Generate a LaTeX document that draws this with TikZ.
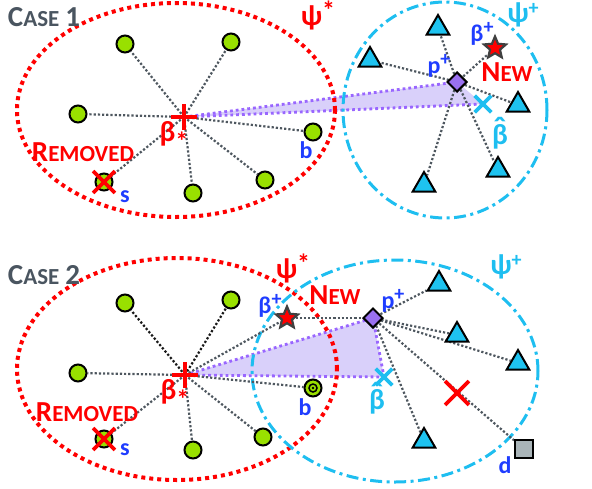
\documentclass[tikz,border=0pt]{standalone}
\usepackage{fontspec}
\setmainfont{Carlito}
\usetikzlibrary{shapes.geometric,shapes.misc,backgrounds}
\definecolor{redc}{HTML}{FF0000}
\definecolor{bluec}{HTML}{1F3DFF}
\definecolor{cyanc}{HTML}{1EBEF0}
\definecolor{trifill}{HTML}{1EC3F0}
\definecolor{limec}{HTML}{99E000}
\definecolor{purpc}{HTML}{9A70F0}
\definecolor{purpline}{HTML}{9966FF}
\definecolor{purpfill}{HTML}{D9D0FA}
\definecolor{glinec}{HTML}{4E575F}
\definecolor{casec}{HTML}{4A5560}
\definecolor{sqfill}{HTML}{A9B4B8}
\newcommand\bigsz{\fontsize{29}{29}\selectfont}
\newcommand\smsz{\fontsize{23}{23}\selectfont}
\newcommand\SCap[2]{{\bigsz #1}{\smsz #2}}
\newcommand\sps[1]{\raisebox{8pt}{\fontsize{20}{20}\selectfont #1}}
\newcommand\spast{\raisebox{6pt}{\fontsize{26}{26}\selectfont *}}
\newcommand\sbast{\raisebox{-9pt}{\fontsize{26}{26}\selectfont *}}
\newcommand\bhat{\ooalign{β\cr\hidewidth\raisebox{4pt}{\fontsize{34}{34}\selectfont ˆ}\hidewidth\cr}}
\begin{document}
\begin{tikzpicture}[x=1pt,y=-1pt,
  gdot/.style={circle, draw=black, line width=2pt, fill=limec, minimum size=17pt, inner sep=0pt},
  tri/.style={regular polygon, regular polygon sides=3, draw=black, line width=2pt, fill=trifill, minimum size=26pt, inner sep=0pt, yshift=-3pt},
  starn/.style={star, star points=5, star point ratio=2.2, draw=black!75, fill=redc, line width=2.2pt, minimum size=23pt, inner sep=0pt},
  pdiam/.style={diamond, draw=black, line width=2pt, fill=purpc, minimum size=20pt, inner sep=0pt},
  sqn/.style={rectangle, draw=black, line width=2pt, fill=sqfill, minimum size=18pt, inner sep=0pt},
  plusmark/.style={cross out, draw=redc, line width=3.8pt, minimum size=14pt, inner sep=0pt, rotate=45},
  cyx/.style={cross out, draw=cyanc, line width=3.6pt, minimum size=13pt, inner sep=0pt},
  redx/.style={cross out, draw=redc, line width=3.8pt, minimum size=#1, inner sep=0pt},
  gline/.style={draw=glinec, line width=2.2pt, dash pattern=on 2.2pt off 2pt},
  bline/.style={draw=black!90, line width=2.2pt, dash pattern=on 2.2pt off 2pt},
  pline/.style={draw=purpline, line width=2.8pt, dash pattern=on 2.8pt off 3pt},
  redell/.style={draw=redc, line width=4pt, dash pattern=on 4pt off 4pt},
  blueell/.style={draw=cyanc, line width=3pt, dash pattern=on 12pt off 4.5pt on 3pt off 4.5pt},
  lab/.style={font=\bfseries\fontsize{24}{24}\selectfont, inner sep=0pt},
  glab/.style={font=\bfseries\fontsize{29}{29}\selectfont, inner sep=0pt},
  sclab/.style={font=\bfseries, inner sep=0pt},
]
\useasboundingbox (0,0) rectangle (592,488);

%% ================= CASE 1 =================
\node[sclab, text=casec] (case1) at (44,17) {\SCap{C}{ASE}\hspace{6pt}{\bigsz 1}};
\node[gdot] (g11) at (125,44) {};
\node[gdot] (g12) at (231,42) {};
\node[gdot] (g13) at (78,114) {};
\node[gdot] (g14) at (193,193) {};
\node[gdot] (g15) at (265,180) {};
\node[gdot] (s1) at (104,182) {};
\node[gdot] (b1) at (313,132) {};
\node[tri] (t11) at (438,25) {};
\node[tri] (t12) at (370,57) {};
\node[tri] (t13) at (518,102) {};
\node[tri] (t14) at (498,167) {};
\node[tri] (t15) at (424,182) {};
\node[starn] (st1) at (495,48) {};
\node[pdiam] (pp1) at (457,82) {};
\node[plusmark] (bs1) at (184,117) {};
\node[cyx] (bh1) at (483,104) {};
\node[redx=18pt] (rx1) at (104,182) {};

\begin{scope}[on background layer]
  \fill[purpfill] (bs1.center) -- (pp1.center) -- (bh1.center) -- cycle;
  \draw[pline] (bs1.center) -- (pp1.center);
  \draw[pline] (bs1.center) -- (bh1.center);
  \draw[redell] (176,110) ellipse [x radius=159pt, y radius=107pt];
  \draw[blueell] (445,110) ellipse [x radius=102pt, y radius=108pt];
  \foreach \n in {g11,g12,g13,g14,g15,s1,b1} \draw[gline] (bs1.center) -- (\n);
  \foreach \n in {t11,t12,t13,t14,t15,st1} \draw[gline] (pp1.center) -- (\n);
\end{scope}

\node[glab, text=redc] (psis1) at (318,15) {ψ\spast};
\node[glab, text=cyanc] (psip1) at (523,15) {ψ\sps{+}};
\node[sclab, text=redc] (rem1) at (83,152) {\SCap{R}{EMOVED}};
\node[glab, text=redc] (bsl1) at (174,136) {β\sbast};
\node[lab, text=bluec] (sl1) at (125,197) {s};
\node[lab, text=bluec] (bl1) at (306,150) {b};
\node[lab, text=bluec] (bpl1) at (482,34) {β\sps{+}};
\node[lab, text=bluec] (ppl1) at (439,66) {p\sps{+}};
\node[sclab, text=redc] (new1) at (507,72) {\SCap{N}{EW}};
\node[glab, text=cyanc] (bhl1) at (500,134) {\bhat};

%% ================= CASE 2 =================
\node[sclab, text=casec] (case2) at (44,275) {\SCap{C}{ASE}\hspace{6pt}{\bigsz 2}};
\node[gdot] (g21) at (125,303) {};
\node[gdot] (g22) at (231,300) {};
\node[gdot] (g23) at (78,373) {};
\node[gdot] (g24) at (193,450) {};
\node[gdot] (g25) at (263,437) {};
\node[gdot] (s2) at (104,439) {};
\node[gdot] (b2) at (313,388) {};
\node[circle, draw=black, line width=1.5pt, minimum size=8pt, inner sep=0pt] (b2in) at (313,388) {};
\node[circle, fill=black, minimum size=2.6pt, inner sep=0pt] (b2dot) at (313,388) {};
\node[tri] (t21) at (439,281) {};
\node[tri] (t22) at (457,332) {};
\node[tri] (t23) at (518,360) {};
\node[tri] (t24) at (424,438) {};
\node[sqn] (d2) at (524,449) {};
\node[starn] (st2) at (287,318) {};
\node[pdiam] (pp2) at (373,318) {};
\node[plusmark] (bs2) at (185,375) {};
\node[cyx] (bh2) at (384,377) {};
\node[redx=18pt] (rx2) at (104,439) {};
\node[redx=20pt] (x2) at (457,393) {};

\begin{scope}[on background layer]
  \fill[purpfill] (bs2.center) -- (pp2.center) -- (bh2.center) -- cycle;
  \draw[pline] (bs2.center) -- (pp2.center);
  \draw[pline] (bs2.center) -- (bh2.center);
  \draw[pline] (pp2.center) -- (bh2.center);
  \draw[redell] (177,369) ellipse [x radius=160pt, y radius=111pt];
  \draw[blueell] (395,371) ellipse [x radius=143pt, y radius=111pt];
  \foreach \n in {g21,g22} \draw[bline] (bs2.center) -- (\n);
  \foreach \n in {g23,g24,g25,s2,b2,st2} \draw[gline] (bs2.center) -- (\n);
  \draw[gline] (st2) -- (pp2);
  \foreach \n in {t21,t22,t23,t24,d2} \draw[gline] (pp2.center) -- (\n);
\end{scope}

\node[glab, text=redc] (psis2) at (293,268) {ψ\spast};
\node[glab, text=cyanc] (psip2) at (506,267) {ψ\sps{+}};
\node[lab, text=bluec] (bpl2) at (270,306) {β\sps{+}};
\node[sclab, text=redc] (new2) at (335,295) {\SCap{N}{EW}};
\node[lab, text=bluec] (ppl2) at (393,301) {p\sps{+}};
\node[sclab, text=redc] (rem2) at (87,412) {\SCap{R}{EMOVED}};
\node[glab, text=redc] (bsl2) at (175,394) {β\sbast};
\node[lab, text=bluec] (sl2) at (125,450) {s};
\node[lab, text=bluec] (bl2) at (305,407) {b};
\node[glab, text=cyanc] (bhl2) at (377,399) {\bhat};
\node[lab, text=bluec] (dl2) at (505,465) {d};
\end{tikzpicture}
\end{document}
